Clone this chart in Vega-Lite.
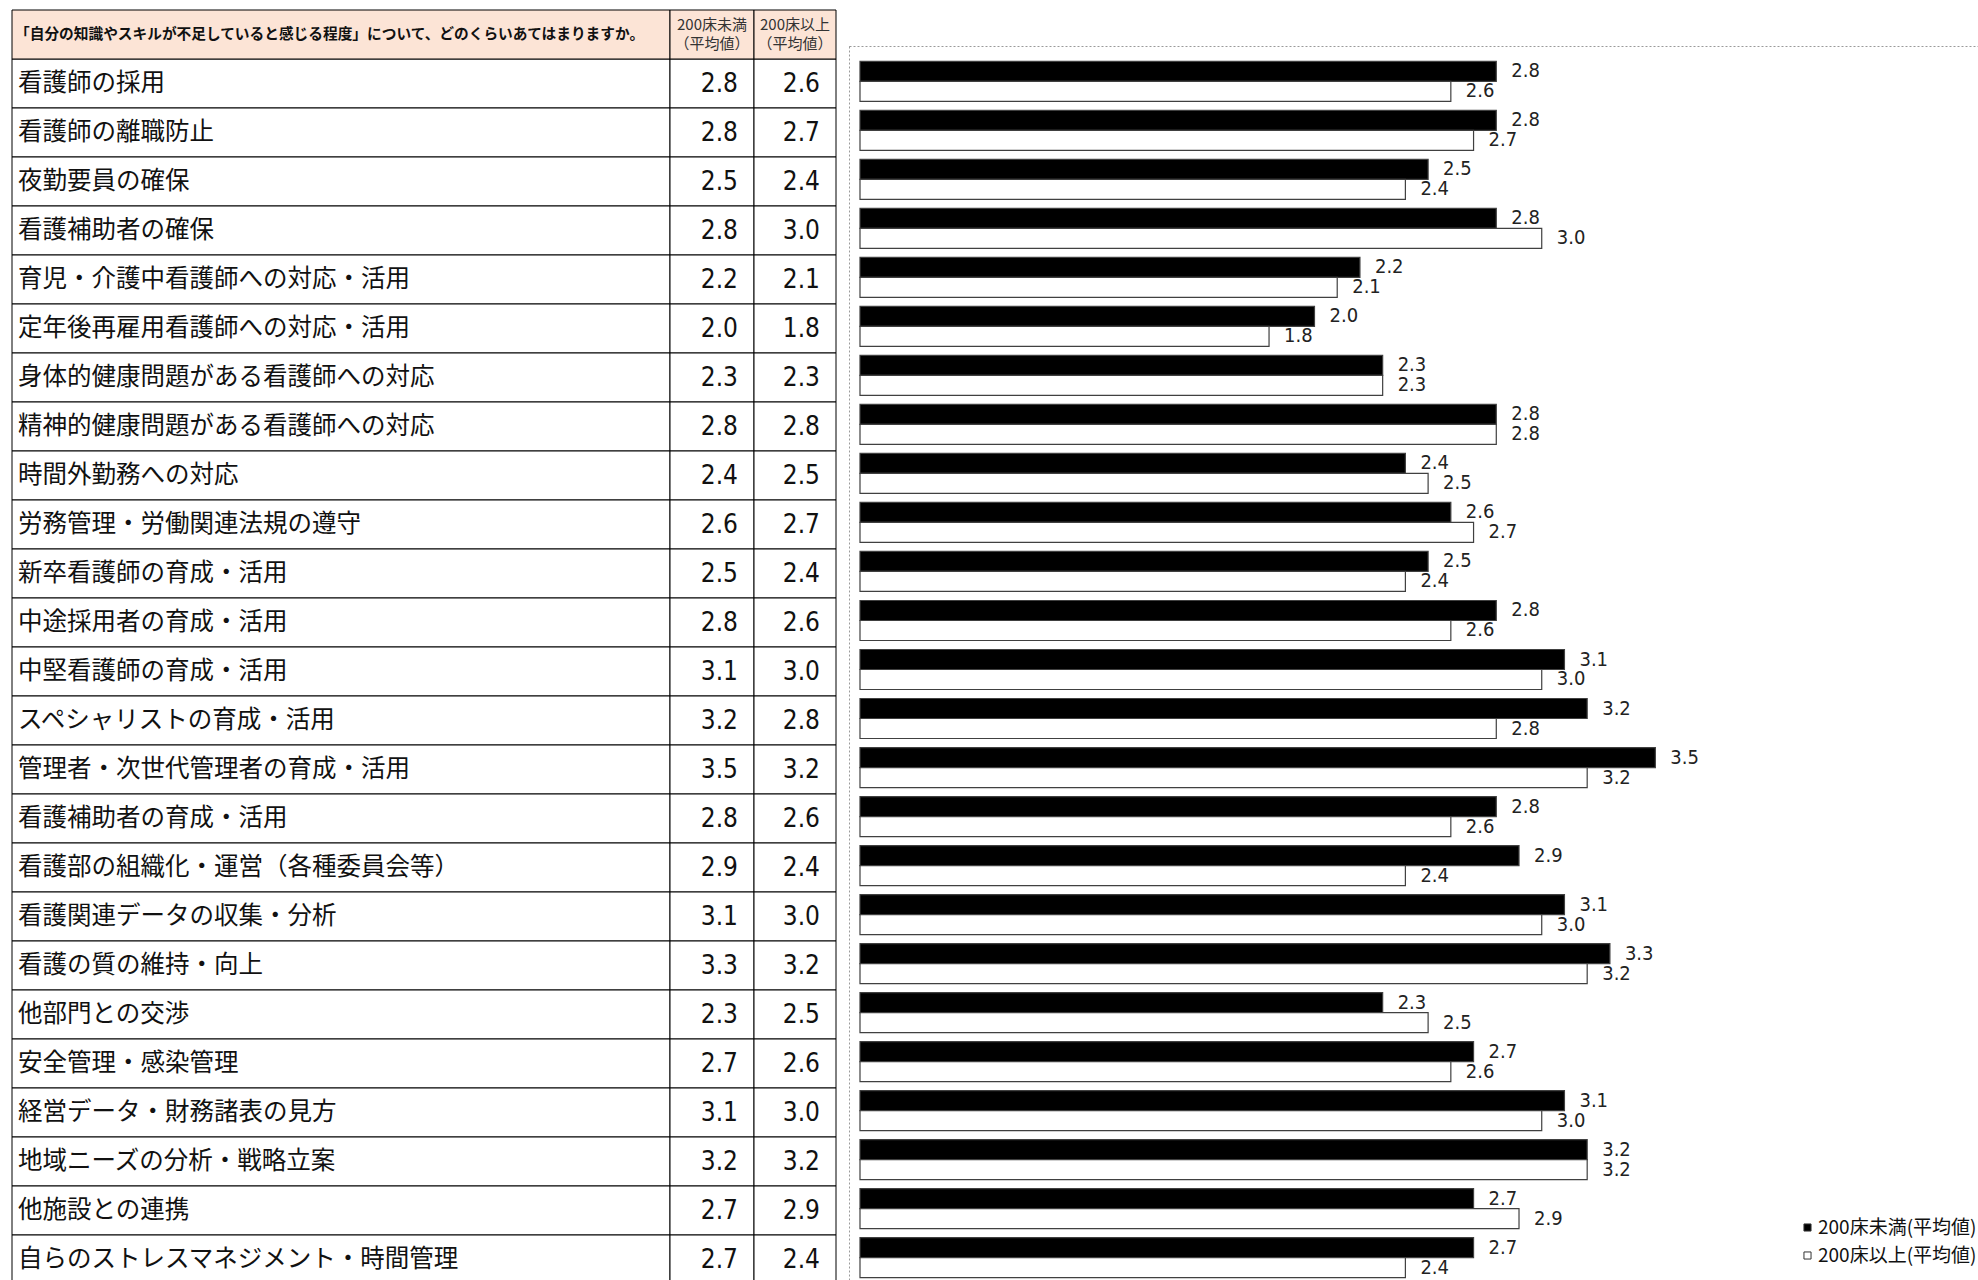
{
  "$schema": "https://vega.github.io/schema/vega-lite/v6.json",
  "padding": {"left": 11, "top": 9, "right": 0, "bottom": 0},
  "background": "white",
  "config": {"view": {"stroke": null}},
  "datasets": {
    "items": [
      {"項目": "看護師の採用", "200床未満(平均値)": 2.8, "200床以上(平均値)": 2.6},
      {"項目": "看護師の離職防止", "200床未満(平均値)": 2.8, "200床以上(平均値)": 2.7},
      {"項目": "夜勤要員の確保", "200床未満(平均値)": 2.5, "200床以上(平均値)": 2.4},
      {"項目": "看護補助者の確保", "200床未満(平均値)": 2.8, "200床以上(平均値)": 3.0},
      {"項目": "育児・介護中看護師への対応・活用", "200床未満(平均値)": 2.2, "200床以上(平均値)": 2.1},
      {"項目": "定年後再雇用看護師への対応・活用", "200床未満(平均値)": 2.0, "200床以上(平均値)": 1.8},
      {"項目": "身体的健康問題がある看護師への対応", "200床未満(平均値)": 2.3, "200床以上(平均値)": 2.3},
      {"項目": "精神的健康問題がある看護師への対応", "200床未満(平均値)": 2.8, "200床以上(平均値)": 2.8},
      {"項目": "時間外勤務への対応", "200床未満(平均値)": 2.4, "200床以上(平均値)": 2.5},
      {"項目": "労務管理・労働関連法規の遵守", "200床未満(平均値)": 2.6, "200床以上(平均値)": 2.7},
      {"項目": "新卒看護師の育成・活用", "200床未満(平均値)": 2.5, "200床以上(平均値)": 2.4},
      {"項目": "中途採用者の育成・活用", "200床未満(平均値)": 2.8, "200床以上(平均値)": 2.6},
      {"項目": "中堅看護師の育成・活用", "200床未満(平均値)": 3.1, "200床以上(平均値)": 3.0},
      {"項目": "スペシャリストの育成・活用", "200床未満(平均値)": 3.2, "200床以上(平均値)": 2.8},
      {"項目": "管理者・次世代管理者の育成・活用", "200床未満(平均値)": 3.5, "200床以上(平均値)": 3.2},
      {"項目": "看護補助者の育成・活用", "200床未満(平均値)": 2.8, "200床以上(平均値)": 2.6},
      {"項目": "看護部の組織化・運営（各種委員会等）", "200床未満(平均値)": 2.9, "200床以上(平均値)": 2.4},
      {"項目": "看護関連データの収集・分析", "200床未満(平均値)": 3.1, "200床以上(平均値)": 3.0},
      {"項目": "看護の質の維持・向上", "200床未満(平均値)": 3.3, "200床以上(平均値)": 3.2},
      {"項目": "他部門との交渉", "200床未満(平均値)": 2.3, "200床以上(平均値)": 2.5},
      {"項目": "安全管理・感染管理", "200床未満(平均値)": 2.7, "200床以上(平均値)": 2.6},
      {"項目": "経営データ・財務諸表の見方", "200床未満(平均値)": 3.1, "200床以上(平均値)": 3.0},
      {"項目": "地域ニーズの分析・戦略立案", "200床未満(平均値)": 3.2, "200床以上(平均値)": 3.2},
      {"項目": "他施設との連携", "200床未満(平均値)": 2.7, "200床以上(平均値)": 2.9},
      {"項目": "自らのストレスマネジメント・時間管理", "200床未満(平均値)": 2.7, "200床以上(平均値)": 2.4}
    ],
    "header": [
      {"設問": "「自分の知識やスキルが不足していると感じる程度」について、どのくらいあてはまりますか。", "未満": ["200床未満", "（平均値）"], "以上": ["200床以上", "（平均値）"]}
    ]
  },
  "spacing": 11,
  "hconcat": [
    {
      "spacing": 0,
      "bounds": "flush",
      "hconcat": [
        {
          "width": 658,
          "height": 1274,
          "layer": [
            {
              "data": {"name": "items"},
              "mark": {"type": "rect", "fill": "white", "stroke": "black", "strokeWidth": 1},
              "encoding": {
                "y": {"field": "項目", "type": "nominal", "axis": null, "scale": {"paddingInner": 0, "paddingOuter": 0, "domain": ["見出し", "看護師の採用", "看護師の離職防止", "夜勤要員の確保", "看護補助者の確保", "育児・介護中看護師への対応・活用", "定年後再雇用看護師への対応・活用", "身体的健康問題がある看護師への対応", "精神的健康問題がある看護師への対応", "時間外勤務への対応", "労務管理・労働関連法規の遵守", "新卒看護師の育成・活用", "中途採用者の育成・活用", "中堅看護師の育成・活用", "スペシャリストの育成・活用", "管理者・次世代管理者の育成・活用", "看護補助者の育成・活用", "看護部の組織化・運営（各種委員会等）", "看護関連データの収集・分析", "看護の質の維持・向上", "他部門との交渉", "安全管理・感染管理", "経営データ・財務諸表の見方", "地域ニーズの分析・戦略立案", "他施設との連携", "自らのストレスマネジメント・時間管理"]}},
                "x": {"datum": 0, "type": "quantitative", "axis": null, "scale": {"domain": [0, 1], "nice": false, "zero": false}},
                "x2": {"datum": 1}
              }
            },
            {
              "data": {"name": "header"},
              "mark": {"type": "rect", "fill": "#FCE4D6", "stroke": "black", "strokeWidth": 1},
              "encoding": {
                "y": {"datum": "見出し", "type": "nominal"},
                "x": {"datum": 0, "type": "quantitative"},
                "x2": {"datum": 1}
              }
            },
            {
              "data": {"name": "items"},
              "mark": {"type": "text", "align": "left", "baseline": "middle", "dx": 6, "font": "Noto Sans CJK JP", "fontSize": 24.5, "fill": "#111111"},
              "encoding": {
                "y": {"field": "項目", "type": "nominal"},
                "x": {"datum": 0, "type": "quantitative"},
                "text": {"field": "項目"}
              }
            },
            {
              "data": {"name": "header"},
              "mark": {"type": "text", "align": "left", "baseline": "middle", "dx": 3, "font": "Noto Sans CJK JP", "fontSize": 14.7, "fontWeight": "bold", "fill": "#111111"},
              "encoding": {
                "y": {"datum": "見出し", "type": "nominal"},
                "x": {"datum": 0, "type": "quantitative"},
                "text": {"field": "設問"}
              }
            }
          ]
        },
        {
          "width": 84,
          "height": 1274,
          "layer": [
            {
              "data": {"name": "items"},
              "mark": {"type": "rect", "fill": "white", "stroke": "black", "strokeWidth": 1},
              "encoding": {
                "y": {"field": "項目", "type": "nominal", "axis": null, "scale": {"paddingInner": 0, "paddingOuter": 0, "domain": ["見出し", "看護師の採用", "看護師の離職防止", "夜勤要員の確保", "看護補助者の確保", "育児・介護中看護師への対応・活用", "定年後再雇用看護師への対応・活用", "身体的健康問題がある看護師への対応", "精神的健康問題がある看護師への対応", "時間外勤務への対応", "労務管理・労働関連法規の遵守", "新卒看護師の育成・活用", "中途採用者の育成・活用", "中堅看護師の育成・活用", "スペシャリストの育成・活用", "管理者・次世代管理者の育成・活用", "看護補助者の育成・活用", "看護部の組織化・運営（各種委員会等）", "看護関連データの収集・分析", "看護の質の維持・向上", "他部門との交渉", "安全管理・感染管理", "経営データ・財務諸表の見方", "地域ニーズの分析・戦略立案", "他施設との連携", "自らのストレスマネジメント・時間管理"]}},
                "x": {"datum": 0, "type": "quantitative", "axis": null, "scale": {"domain": [0, 1], "nice": false, "zero": false}},
                "x2": {"datum": 1}
              }
            },
            {
              "data": {"name": "header"},
              "mark": {"type": "rect", "fill": "#FCE4D6", "stroke": "black", "strokeWidth": 1},
              "encoding": {
                "y": {"datum": "見出し", "type": "nominal"},
                "x": {"datum": 0, "type": "quantitative"},
                "x2": {"datum": 1}
              }
            },
            {
              "data": {"name": "items"},
              "mark": {"type": "text", "align": "right", "baseline": "middle", "dx": -16, "font": "Liberation Sans Narrow, Arial Narrow, DejaVu Sans Condensed, sans-serif", "fontSize": 26, "fill": "#111111"},
              "encoding": {
                "y": {"field": "項目", "type": "nominal"},
                "x": {"datum": 1, "type": "quantitative"},
                "text": {"field": "200床未満(平均値)", "type": "quantitative", "format": ".1f"}
              }
            },
            {
              "data": {"name": "header"},
              "mark": {"type": "text", "align": "center", "baseline": "middle", "dy": -9.5, "font": "Noto Sans CJK JP", "fontSize": 15, "lineHeight": 19, "fill": "#333333"},
              "encoding": {
                "y": {"datum": "見出し", "type": "nominal"},
                "x": {"datum": 0.5, "type": "quantitative"},
                "text": {"field": "未満"}
              }
            }
          ]
        },
        {
          "width": 82,
          "height": 1274,
          "layer": [
            {
              "data": {"name": "items"},
              "mark": {"type": "rect", "fill": "white", "stroke": "black", "strokeWidth": 1},
              "encoding": {
                "y": {"field": "項目", "type": "nominal", "axis": null, "scale": {"paddingInner": 0, "paddingOuter": 0, "domain": ["見出し", "看護師の採用", "看護師の離職防止", "夜勤要員の確保", "看護補助者の確保", "育児・介護中看護師への対応・活用", "定年後再雇用看護師への対応・活用", "身体的健康問題がある看護師への対応", "精神的健康問題がある看護師への対応", "時間外勤務への対応", "労務管理・労働関連法規の遵守", "新卒看護師の育成・活用", "中途採用者の育成・活用", "中堅看護師の育成・活用", "スペシャリストの育成・活用", "管理者・次世代管理者の育成・活用", "看護補助者の育成・活用", "看護部の組織化・運営（各種委員会等）", "看護関連データの収集・分析", "看護の質の維持・向上", "他部門との交渉", "安全管理・感染管理", "経営データ・財務諸表の見方", "地域ニーズの分析・戦略立案", "他施設との連携", "自らのストレスマネジメント・時間管理"]}},
                "x": {"datum": 0, "type": "quantitative", "axis": null, "scale": {"domain": [0, 1], "nice": false, "zero": false}},
                "x2": {"datum": 1}
              }
            },
            {
              "data": {"name": "header"},
              "mark": {"type": "rect", "fill": "#FCE4D6", "stroke": "black", "strokeWidth": 1},
              "encoding": {
                "y": {"datum": "見出し", "type": "nominal"},
                "x": {"datum": 0, "type": "quantitative"},
                "x2": {"datum": 1}
              }
            },
            {
              "data": {"name": "items"},
              "mark": {"type": "text", "align": "right", "baseline": "middle", "dx": -16, "font": "Liberation Sans Narrow, Arial Narrow, DejaVu Sans Condensed, sans-serif", "fontSize": 26, "fill": "#111111"},
              "encoding": {
                "y": {"field": "項目", "type": "nominal"},
                "x": {"datum": 1, "type": "quantitative"},
                "text": {"field": "200床以上(平均値)", "type": "quantitative", "format": ".1f"}
              }
            },
            {
              "data": {"name": "header"},
              "mark": {"type": "text", "align": "center", "baseline": "middle", "dy": -9.5, "font": "Noto Sans CJK JP", "fontSize": 15, "lineHeight": 19, "fill": "#333333"},
              "encoding": {
                "y": {"datum": "見出し", "type": "nominal"},
                "x": {"datum": 0.5, "type": "quantitative"},
                "text": {"field": "以上"}
              }
            }
          ]
        }
      ]
    },
    {
      "spacing": 0,
      "vconcat": [
        {
          "width": 1140,
          "height": 35,
          "data": {"values": [{}]},
          "mark": {"type": "text"},
          "encoding": {"text": {"value": ""}}
        },
        {
          "width": 1140,
          "height": 1247,
          "view": {"stroke": "#9a9a9a", "strokeDash": [2, 2], "strokeWidth": 1},
          "data": {"name": "items"},
          "transform": [{"fold": ["200床未満(平均値)", "200床以上(平均値)"], "as": ["区分", "値"]}],
          "encoding": {
            "y": {"field": "項目", "type": "nominal", "sort": null, "axis": null, "scale": {"paddingInner": 0.184, "paddingOuter": 0.312}},
            "yOffset": {"field": "区分", "type": "nominal", "sort": null, "scale": {"domain": ["200床未満(平均値)", "200床以上(平均値)"], "paddingInner": 0, "paddingOuter": 0}},
            "x": {"field": "値", "type": "quantitative", "stack": null, "scale": {"domain": [-0.0484, 4.9682], "nice": false, "zero": false}, "axis": null}
          },
          "layer": [
            {
              "mark": {"type": "bar", "stroke": "#404040", "strokeWidth": 1.2},
              "encoding": {
                "fill": {"field": "区分", "type": "nominal", "scale": {"domain": ["200床未満(平均値)", "200床以上(平均値)"], "range": ["#000000", "#ffffff"]}, "legend": {"orient": "none", "legendX": 1786, "legendY": 1208, "title": null, "symbolType": "square", "symbolSize": 50, "symbolStrokeColor": "#333333", "symbolStrokeWidth": 1, "labelFont": "Noto Sans CJK JP", "labelFontSize": 19, "labelColor": "#111111", "labelOffset": 1, "rowPadding": 8, "padding": 0, "labelLimit": 0}}
              }
            },
            {
              "mark": {"type": "text", "align": "left", "baseline": "middle", "dx": 15, "font": "Liberation Sans Narrow, Arial Narrow, DejaVu Sans Condensed, sans-serif", "fontSize": 20, "fill": "#222222"},
              "encoding": {
                "text": {"field": "値", "type": "quantitative", "format": ".1f"}
              }
            }
          ]
        }
      ]
    }
  ]
}
